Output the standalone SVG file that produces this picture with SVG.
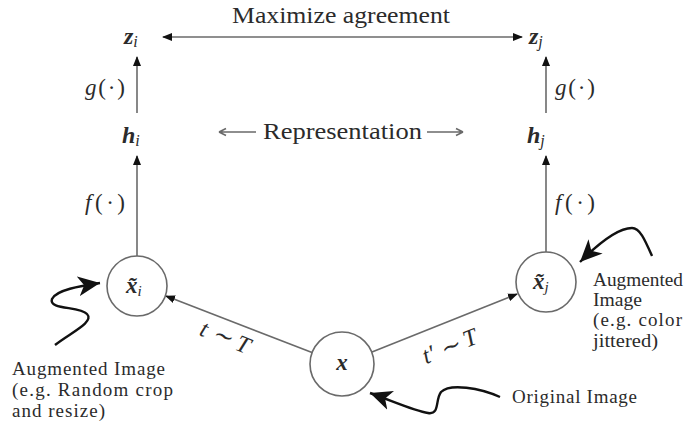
<svg xmlns="http://www.w3.org/2000/svg" width="685" height="426" viewBox="0 0 685 426">
<style>
.bg{fill:#ffffff}
.node{fill:#ffffff;stroke:#6a6a6a;stroke-width:1.6}
.edge{fill:none;stroke:#6a6a6a;stroke-width:1.6}
.curly{fill:none;stroke:#111111;stroke-width:2.4}
text{font-family:'Liberation Serif','Times New Roman',Tinos,'Nimbus Roman',serif;fill:#2b2b2b}
.math{font-style:italic}
.bm{font-weight:bold;font-style:italic}
</style>
<defs>
<marker id="ah" markerWidth="10" markerHeight="8" refX="9" refY="4" orient="auto" markerUnits="userSpaceOnUse">
<path d="M0,0 L10,4 L0,8 z" fill="#111"/>
</marker>
<marker id="ahs" markerWidth="10" markerHeight="8" refX="1" refY="4" orient="auto" markerUnits="userSpaceOnUse">
<path d="M10,0 L0,4 L10,8 z" fill="#111"/>
</marker>
<marker id="big" markerWidth="24" markerHeight="20" refX="22" refY="10" orient="auto" markerUnits="userSpaceOnUse">
<path d="M0,0 L22,10 L0,20 L6,10 z" fill="#111"/>
</marker>
</defs>
<rect class="bg" x="0" y="0" width="685" height="426"/>

<g id="connectors">
<line class="edge" x1="163" y1="37" x2="522" y2="37" marker-start="url(#ahs)" marker-end="url(#ah)"/>
<line class="edge" x1="137" y1="113" x2="137" y2="57" marker-end="url(#ah)"/>
<line class="edge" x1="546" y1="113" x2="546" y2="57" marker-end="url(#ah)"/>
<line class="edge" x1="137" y1="256" x2="137" y2="156" marker-end="url(#ah)"/>
<line class="edge" x1="546" y1="252" x2="546" y2="156" marker-end="url(#ah)"/>
<line class="edge" x1="312" y1="352.6" x2="166" y2="296" marker-end="url(#ah)"/>
<line class="edge" x1="372" y1="352" x2="517" y2="294" marker-end="url(#ah)"/>
<path class="edge" d="M219,132 H256 M219,132 L226,128.5 M219,132 L226,135.5" stroke-width="1.3"/>
<path class="edge" d="M427,132 H463 M463,132 L456,128.5 M463,132 L456,135.5" stroke-width="1.3"/>
<path class="curly" d="M55,345 C70,333 95,322 87,314 C80,306 48,310 52,299 C56,290 80,286 100,283" marker-end="url(#big)"/>
<path class="curly" d="M652,256 C645,240 640,228 632,228 C618,228 598,244 580,262" marker-end="url(#big)"/>
<path class="curly" d="M500,397 C480,388 450,383 441,392 C435,400 440,415 428,413 C415,411 395,402 370,393" marker-end="url(#big)"/>
</g>

<g id="label-maximize"><text x="232" y="23" font-size="24" textLength="218" lengthAdjust="spacingAndGlyphs">Maximize agreement</text></g>
<g id="label-representation"><text x="263" y="139" font-size="23" textLength="159" lengthAdjust="spacingAndGlyphs">Representation</text></g>

<g id="node-zi"><text class="math" x="124" y="44" font-size="24"><tspan class="bm">z</tspan><tspan font-size="16" dy="3">i</tspan></text></g>
<g id="node-zj"><text class="math" x="529" y="44" font-size="24"><tspan class="bm">z</tspan><tspan font-size="16" dy="3">j</tspan></text></g>
<g id="node-hi"><text class="math" x="122" y="143" font-size="24"><tspan class="bm">h</tspan><tspan font-size="16" dy="3">i</tspan></text></g>
<g id="node-hj"><text class="math" x="527" y="143" font-size="24"><tspan class="bm">h</tspan><tspan font-size="16" dy="3">j</tspan></text></g>

<g id="label-g-left"><text x="85" y="95" font-size="23" textLength="40"><tspan font-style="italic">g</tspan>(·)</text></g>
<g id="label-f-left"><text x="85" y="210" font-size="23" textLength="40"><tspan font-style="italic">f</tspan>(·)</text></g>
<g id="label-g-right"><text x="555" y="95" font-size="23" textLength="40"><tspan font-style="italic">g</tspan>(·)</text></g>
<g id="label-f-right"><text x="555" y="210" font-size="23" textLength="40"><tspan font-style="italic">f</tspan>(·)</text></g>

<g id="node-xi">
<circle class="node" cx="137" cy="286" r="30"/>
<text class="math" x="126" y="293" font-size="23"><tspan class="bm">x̃</tspan><tspan font-size="15" dy="3">i</tspan></text>
</g>
<g id="node-xj">
<circle class="node" cx="546" cy="282" r="30"/>
<text class="math" x="533" y="289" font-size="23"><tspan class="bm">x̃</tspan><tspan font-size="15" dy="3">j</tspan></text>
</g>
<g id="node-x">
<circle class="node" cx="342" cy="364" r="32"/>
<text class="math" x="342" y="370" font-size="23" text-anchor="middle"><tspan class="bm">x</tspan></text>
</g>

<g id="label-t"><text class="math" x="225" y="345" font-size="24" text-anchor="middle" transform="rotate(22 225 338)">t ∼ T</text></g>
<g id="label-tp"><text class="math" x="450" y="354" font-size="24" text-anchor="middle" transform="rotate(-22 450 347)">t′ ∼ T</text></g>

<g id="note-left">
<text x="12" y="375" font-size="19" textLength="153" lengthAdjust="spacing">Augmented Image</text>
<text x="12" y="396" font-size="19" textLength="161" lengthAdjust="spacing">(e.g. Random crop</text>
<text x="12" y="417" font-size="19" textLength="93" lengthAdjust="spacing">and resize)</text>
</g>
<g id="note-right">
<text x="593" y="286" font-size="19" textLength="90" lengthAdjust="spacingAndGlyphs">Augmented</text>
<text x="593" y="306" font-size="19" textLength="49" lengthAdjust="spacingAndGlyphs">Image</text>
<text x="593" y="326" font-size="19" textLength="89" lengthAdjust="spacing">(e.g. color</text>
<text x="593" y="347" font-size="19" textLength="65" lengthAdjust="spacingAndGlyphs">jittered)</text>
</g>
<g id="note-bottom">
<text x="512" y="403" font-size="19" textLength="125" lengthAdjust="spacing">Original Image</text>
</g>
</svg>
